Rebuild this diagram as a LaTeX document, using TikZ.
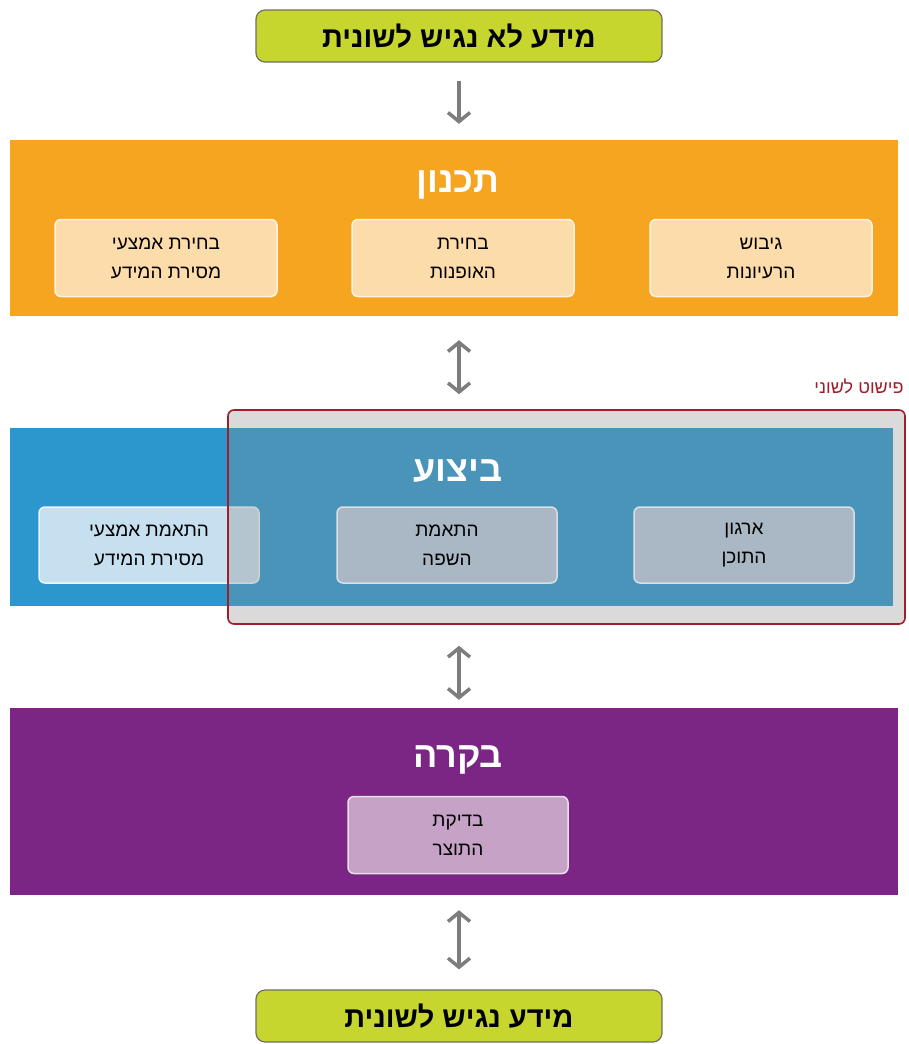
\documentclass[tikz,border=0pt]{standalone}
\usepackage{fontspec}
\setmainfont{Liberation Sans}
\newfontfamily\hebfont[Script=Hebrew]{Liberation Sans}
\TeXXeTstate=1
\usetikzlibrary{arrows.meta}
\newcommand\heb[1]{{\hebfont\beginR #1\endR}}
\definecolor{limeC}{RGB}{198,214,46}
\definecolor{limeB}{RGB}{112,112,100}
\definecolor{orangeC}{RGB}{246,165,33}
\definecolor{peachC}{RGB}{253,220,171}
\definecolor{blueC}{RGB}{43,151,205}
\definecolor{lblueC}{RGB}{199,224,240}
\definecolor{gblueC}{RGB}{170,184,198}
\definecolor{redC}{RGB}{161,28,44}
\definecolor{purpleC}{RGB}{123,38,133}
\definecolor{lilacC}{RGB}{198,162,199}
\definecolor{grayA}{RGB}{125,125,125}
\definecolor{overC}{RGB}{143,143,145}
\begin{document}
\begin{tikzpicture}[x=1pt,y=-1pt,
  greenbox/.style={draw=limeB,line width=1.2pt,fill=limeC,rounded corners=9pt,minimum width=406pt,minimum height=52pt,font=\bfseries\fontsize{29}{32}\selectfont},
  band/.style={fill=#1,inner sep=0pt},
  bandtitle/.style={text=white,font=\bfseries\fontsize{36}{40}\selectfont},
  subbox/.style={fill=#1,draw=white!65!#1,line width=1.5pt,rounded corners=6pt,minimum width=222pt,minimum height=77pt,align=center,font=\fontsize{19}{29}\selectfont},
  conn/.style={draw=grayA,line width=3.5pt,{Straight Barb[length=9pt,width=22pt,line width=3.5pt]}-{Straight Barb[length=9pt,width=22pt,line width=3.5pt]}},
  conn1/.style={draw=grayA,line width=3.5pt,-{Straight Barb[length=9pt,width=22pt,line width=3.5pt]}}
]
\useasboundingbox (0,0) rectangle (908,1044);
\fill[white] (0,0) rectangle (908,1044);

% top
\node[greenbox] (top) at (459,36) {\heb{מידע לא נגיש לשונית}};

% planning band
\node[band=orangeC,minimum width=888pt,minimum height=176pt] (plan) at (454,228) {};
\node[bandtitle] (plantitle) at (458,185) {\heb{תכנון}};
\node[subbox=peachC] (p1) at (761,258) {\heb{גיבוש}\\\heb{הרעיונות}};
\node[subbox=peachC] (p2) at (463,258) {\heb{בחירת}\\\heb{האופנות}};
\node[subbox=peachC] (p3) at (166,258) {\heb{בחירת אמצעי}\\\heb{מסירת המידע}};

% execution band
\node[band=blueC,minimum width=883pt,minimum height=178pt] (exec) at (451.5,517) {};
\node[subbox=lblueC,minimum width=220pt,minimum height=76pt] (e3) at (149,545) {\heb{התאמת אמצעי}\\\heb{מסירת המידע}};
\fill[overC,opacity=0.33,rounded corners=6pt] (228,410) rectangle (905,624);
\node[subbox=gblueC,draw=white!55!gblueC,minimum width=220pt,minimum height=76pt] (e2) at (447,545) {\heb{התאמת}\\\heb{השפה}};
\node[subbox=gblueC,draw=white!55!gblueC,minimum width=220pt,minimum height=76pt] (e1) at (744,545) {\heb{ארגון}\\\heb{התוכן}};
\node[draw=redC,line width=1.6pt,rounded corners=6pt,minimum width=677pt,minimum height=214pt] (simp) at (566.5,517) {};
\node[bandtitle] (exectitle) at (458,471) {\heb{ביצוע}};
\node[text=redC,font=\fontsize{18}{20}\selectfont,anchor=east] (simplabel) at (907,386) {\heb{פישוט לשוני}};

% control band
\node[band=purpleC,minimum width=888pt,minimum height=187pt] (ctrl) at (454,801.5) {};
\node[bandtitle] (ctrltitle) at (458,760) {\heb{בקרה}};
\node[subbox=lilacC,minimum width=220pt,minimum height=77pt] (c1) at (458,835) {\heb{בדיקת}\\\heb{התוצר}};

% bottom
\node[greenbox] (bottom) at (459,1016) {\heb{מידע נגיש לשונית}};

% connectors
\draw[conn1,shorten <=18pt,shorten >=16pt] (top.south) -- (plan.north -| top.south);
\draw[conn,shorten <=24pt,shorten >=15pt] (plan.south -| top.south) -- (simp.north -| top.south);
\draw[conn,shorten <=21pt,shorten >=8pt] (simp.south -| top.south) -- (ctrl.north -| top.south);
\draw[conn,shorten <=15pt,shorten >=20pt] (ctrl.south -| top.south) -- (bottom.north);
\end{tikzpicture}
\end{document}
